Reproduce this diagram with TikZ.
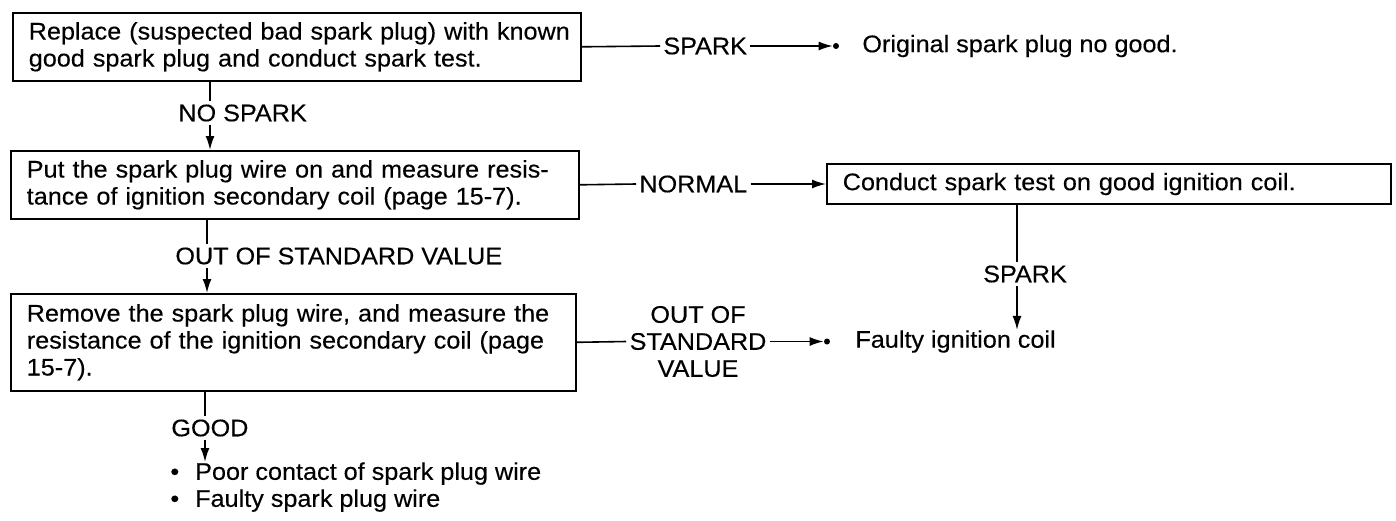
\documentclass[tikz,border=0pt]{standalone}
\usepackage{fontspec}
\setmainfont{Liberation Sans}[FakeStretch=1.05, FakeBold=0.3]
\usetikzlibrary{arrows.meta, positioning}
\newcommand{\jline}[1]{\makebox[\linewidth][s]{#1}}

\begin{document}
\begin{tikzpicture}[x=0.5pt, y=-0.5pt, font=\fontsize{12}{13.5}\selectfont,
    stepbox/.style={draw, line width=0.8pt, text width=268pt, inner xsep=8pt, inner ysep=0pt, align=left, anchor=north west},
    tag/.style={inner sep=1.5pt, align=center},
    wire/.style={line width=0.8pt},
    arr/.style={-{Latex[length=7pt, width=4.5pt]}, line width=0.8pt},
    tip/.style={circle, fill=black, inner sep=0pt, minimum size=3pt}]
    \useasboundingbox (0,0) rectangle (1396,520);

    \node[stepbox, minimum height=34pt] (b1) at (12,12) {\mbox{Replace (suspected bad spark plug) with known}\\good spark plug and conduct spark test.};
    \node[tag, anchor=west] (spark1) at (660,46) {SPARK};
    \node[tip] (d1) at (836,46) {};
    \node[anchor=west, inner sep=0pt] (r1) at (862,46) {Original spark plug no good.};
    \draw[wire] (b1.east) -- (spark1.west);
    \draw[arr] (spark1.east) -- (d1.west);

    \coordinate (v1) at (210,0);
    \node[tag, anchor=west] (nospark) at (175,113) {NO SPARK};
    \node[stepbox, minimum height=34pt] (b2) at (10,150) {\jline{Put the spark plug wire on and measure resis-}\\tance of ignition secondary coil (page 15-7).};
    \draw[wire] (b1.south -| v1) -- (nospark.north -| v1);
    \draw[arr] (nospark.south -| v1) -- (b2.north -| v1);

    \node[tag, anchor=west] (normal) at (636,184) {NORMAL};
    \node[stepbox, text width=266pt, minimum height=20pt, anchor=west] (b4) at (826,184) {Conduct spark test on good ignition coil.};
    \draw[wire] (b2.east) -- (normal.west);
    \draw[arr] (normal.east) -- (b4.west);

    \coordinate (v2) at (207,0);
    \node[tag, anchor=west] (oosv) at (172,256) {OUT OF STANDARD VALUE};
    \node[stepbox, text width=266.5pt, minimum height=48.5pt] (b3) at (10,293) {\jline{Remove the spark plug wire, and measure the}\\\jline{resistance of the ignition secondary coil (page}\\15-7).};
    \draw[wire] (b2.south -| v2) -- (oosv.north -| v2);
    \draw[arr] (oosv.south -| v2) -- (b3.north -| v2);

    \node[tag] (oosh) at (698,341.5) {OUT OF\\STANDARD\\VALUE};
    \node[tip] (d3) at (827,341.5) {};
    \node[anchor=west, inner sep=0pt] (r3) at (855,341.5) {Faulty ignition coil};
    \draw[wire] (b3.east) -- (oosh.west);
    \draw[arr] (oosh.east) -- (d3.west);

    \coordinate (v4) at (1017,0);
    \node[tag] (spark2) at (1025,274) {SPARK};
    \draw[wire] (b4.south -| v4) -- (spark2.north -| v4);
    \draw[arr] (spark2.south -| v4) -- (r3.north -| v4);

    \coordinate (v3) at (205,0);
    \node[tag, anchor=west] (good) at (168,428) {GOOD};
    \node[anchor=north west, inner sep=0pt, align=left] (causes) at (170,462) {\textbullet\hspace{8pt}Poor contact of spark plug wire\\\textbullet\hspace{8pt}Faulty spark plug wire};
    \draw[wire] (b3.south -| v3) -- (good.north -| v3);
    \draw[arr] (good.south -| v3) -- (causes.north -| v3);
  \end{tikzpicture}
\end{document}
